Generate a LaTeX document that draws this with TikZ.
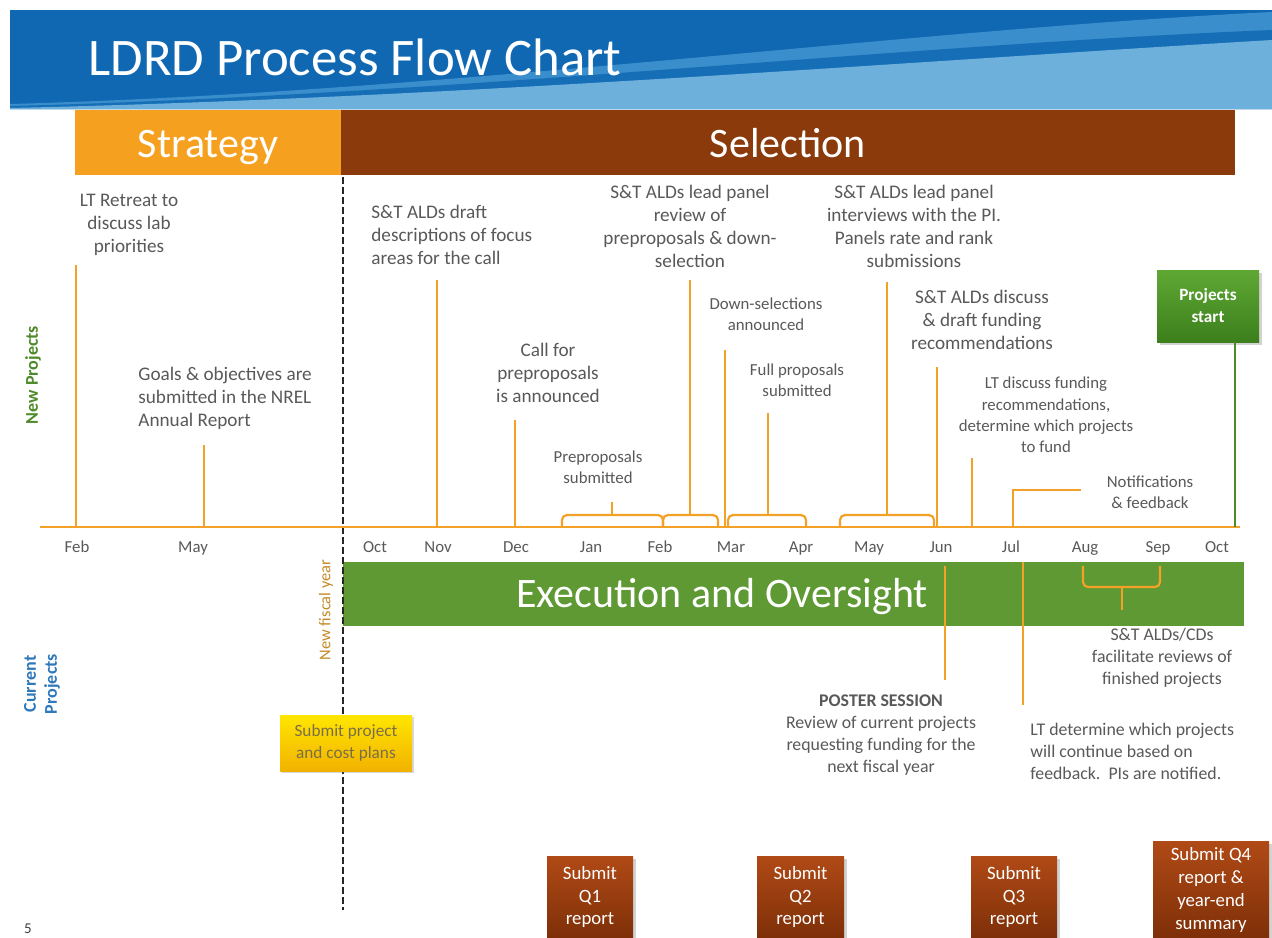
\documentclass[tikz,border=0pt]{standalone}
\usepackage{fontspec}
\setmainfont{Carlito}
\usetikzlibrary{shadows}
\definecolor{bdark}{HTML}{1068B3}
\definecolor{bmid}{HTML}{3B8ECC}
\definecolor{blight}{HTML}{6DB0DC}
\definecolor{orng}{HTML}{F4A128}
\definecolor{strat}{HTML}{F5A01E}
\definecolor{brwn}{HTML}{8A3A0B}
\definecolor{exgreen}{HTML}{5E9933}
\definecolor{tgray}{HTML}{595959}
\definecolor{lgreen}{HTML}{4E8A2A}
\definecolor{lblue}{HTML}{2E78BC}
\definecolor{gold}{HTML}{C48A26}
\definecolor{qtop}{HTML}{B04A16}
\definecolor{qbot}{HTML}{7E2F08}
\definecolor{gtop}{HTML}{5FA834}
\definecolor{gbot}{HTML}{3C7F1C}
\definecolor{ytop}{HTML}{FFE600}
\definecolor{ybot}{HTML}{F2B200}
\definecolor{ytext}{HTML}{7A6E4A}
\tikzset{
  txt/.style={text=tgray, font=\fontsize{9.6}{11.5}\selectfont, align=center, inner sep=0pt},
  lowtxt/.style={text=tgray, font=\fontsize{8.9}{11}\selectfont, align=center, inner sep=0pt},
  smalltxt/.style={text=tgray, font=\fontsize{8.4}{10.7}\selectfont, align=center, inner sep=0pt},
  month/.style={text=tgray, font=\fontsize{8.4}{10}\selectfont, inner sep=0pt, anchor=base},
  tick/.style={draw=orng, line width=1.1pt},
  brace/.style={draw=orng, line width=1.1pt, rounded corners=2.5pt},
  bartxt/.style={text=white, font=\fontsize{21}{24}\selectfont, inner sep=0pt, text height=13.6pt, text depth=0pt},
  qbox/.style={draw=none, top color=qtop, bottom color=qbot, text=white,
     font=\fontsize{9.4}{11.4}\selectfont, align=center, inner sep=0pt, drop shadow={opacity=0.35, shadow xshift=1.5pt, shadow yshift=-1.5pt}},
}
\begin{document}
\begin{tikzpicture}[x=0.5pt,y=-0.5pt]
\useasboundingbox (0,0) rectangle (1272,937);
\fill[white] (0,0) rectangle (1272,937);
% title banner
\fill[bdark] (10,10) rectangle (1272,109);
\fill[bmid] (10,104) .. controls (450,92) and (900,30) .. (1272,12) -- (1272,109) -- (10,109) -- cycle;
\fill[bdark!85!bmid] (10,106) .. controls (450,95) and (900,45) .. (1272,30) -- (1272,109) -- (10,109) -- cycle;
\fill[blight] (10,108) .. controls (450,98) and (900,62) .. (1272,40) -- (1272,109) -- (10,109) -- cycle;
\node[anchor=base west, text=white, font=\fontsize{26.4}{30}\selectfont, inner sep=0pt] (title) at (88,75) {LDRD Process Flow Chart};
% phase bars
\fill[strat] (75,110) rectangle (341,175);
\fill[brwn] (341,110) rectangle (1235,175);
\node[bartxt] (strategy) at (208,144) {Strategy};
\node[bartxt] (selection) at (788,144) {Selection};
% execution bar
\fill[exgreen] (343,562) rectangle (1244,626);
\node[bartxt] (exec) at (722,594) {Execution and Oversight};
% fiscal year dashed line
\coordinate (fyTop) at (343,177);
\coordinate (fyBot) at (343,910);
\draw[black!85, line width=1.2pt, dash pattern=on 3.5pt off 1.5pt] (fyTop) -- (fyBot);
% axis
\coordinate (axL) at (40,527);
\coordinate (axR) at (1240,527);
\draw[tick] (axL) -- (axR);
% month labels
\foreach \m/\x [count=\i] in {Feb/77,May/193,Oct/375,Nov/438,Dec/516,Jan/591,Feb/660,Mar/731,Apr/801,May/869,Jun/941,Jul/1011,Aug/1085,Sep/1158,Oct/1217}
  \node[month] (m\i) at (\x,552) {\m};
% left labels
\node[rotate=90, text=lgreen, font=\fontsize{9}{10}\selectfont\bfseries, inner sep=0pt] (newproj) at (33,375) {New Projects};
\node[rotate=90, text=lblue, font=\fontsize{9}{10.5}\selectfont\bfseries, align=center, inner sep=0pt] (curproj) at (42,684) {Current\\Projects};
\node[rotate=90, text=gold, font=\fontsize{8.2}{10}\selectfont, inner sep=0pt] (fiscal) at (326,610) {New fiscal year};
% top annotations
\node[txt] (retreat) at (129,225) {LT Retreat to\\discuss lab\\priorities};
\node[txt, align=left, anchor=west] (draft) at (371,235) {S\&T ALDs draft\\descriptions of focus\\areas for the call};
\node[txt] (panelrev) at (690,226) {S\&T ALDs lead panel\\review of\\preproposals \& down-\\selection};
\node[txt] (interv) at (914,226) {S\&T ALDs lead panel\\interviews with the PI.\\Panels rate and rank\\submissions};
\node[txt, align=left, anchor=west] (goals) at (138,398) {Goals \& objectives are\\submitted in the NREL\\Annual Report};
\node[txt] (call) at (548,373) {Call for\\preproposals\\is announced};
\node[smalltxt] (presub) at (598,467) {Preproposals\\submitted};
\node[smalltxt] (downsel) at (766,314) {Down-selections\\announced};
\node[smalltxt] (fullprop) at (797,380) {Full proposals\\submitted};
\node[txt] (discuss) at (982,320) {S\&T ALDs discuss\\\& draft funding\\recommendations};
\node[smalltxt] (ltfund) at (1046,415) {LT discuss funding\\recommendations,\\determine which projects\\to fund};
\node[smalltxt] (notif) at (1150,492) {Notifications\\\& feedback};
% projects start box
\node[draw=none, top color=gtop, bottom color=gbot, text=white, font=\fontsize{8.6}{11}\selectfont\bfseries, align=center, minimum width=51pt, minimum height=36pt, inner sep=0pt, drop shadow={opacity=0.35, shadow xshift=1.5pt, shadow yshift=-1.5pt}] (pstart) at (1208,306) {Projects\\start};
% ticks
\draw[tick] (76,265) -- (76,527);
\draw[tick] (204,445) -- (204,527);
\draw[tick] (437,280) -- (437,527);
\draw[tick] (515,420) -- (515,527);
\draw[brace] (562,527) -- (562,515) -- (663,515) -- (663,527);
\draw[tick] (612,515) -- (612,502);
\draw[brace] (663,527) -- (663,515) -- (718,515) -- (718,527);
\draw[tick] (690,515) -- (690,280);
\draw[tick] (725,350) -- (725,527);
\draw[brace] (728,527) -- (728,515) -- (806,515) -- (806,527);
\draw[tick] (768,515) -- (768,413);
\draw[brace] (840,527) -- (840,515) -- (934,515) -- (934,527);
\draw[tick] (887,515) -- (887,282);
\draw[tick] (937,367) -- (937,527);
\draw[tick] (972,458) -- (972,527);
\draw[tick] (1013,527) -- (1013,490) -- (1081,490);
\draw[lgreen, line width=1.2pt] (pstart.south -| 1235,0) -- (1235,527);
% lower section
\draw[tick] (945,566) -- (945,680);
\draw[tick] (1023,562) -- (1023,705);
\draw[brace] (1083,566) -- (1083,587) -- (1160,587) -- (1160,566);
\draw[tick] (1122,587) -- (1122,610);
\node[lowtxt] (facil) at (1162,658) {S\&T ALDs/CDs\\facilitate reviews of\\finished projects};
\node[lowtxt] (poster) at (881,735) {\textbf{POSTER SESSION}\\Review of current projects\\requesting funding for the\\next fiscal year};
\node[lowtxt, align=left, anchor=west] (ltdet) at (1030,751) {LT determine which projects\\will continue based on\\feedback.\ \ PIs are notified.};
\node[draw=none, top color=ytop, bottom color=ybot, text=ytext, font=\fontsize{8.6}{11}\selectfont, align=center, minimum width=66pt, minimum height=28pt, inner sep=0pt, drop shadow={opacity=0.3, shadow xshift=1.2pt, shadow yshift=-1.2pt}] (plans) at (346,743) {Submit project\\and cost plans};
\node[qbox, minimum width=43pt, minimum height=41pt] (q1) at (590,897) {Submit\\Q1\\report};
\node[qbox, minimum width=43.5pt, minimum height=41pt] (q2) at (800.5,897) {Submit\\Q2\\report};
\node[qbox, minimum width=43pt, minimum height=41pt] (q3) at (1014,897) {Submit\\Q3\\report};
\node[qbox, minimum width=58pt, minimum height=49pt] (q4) at (1211,890) {Submit Q4\\report \&\\year-end\\summary};
\node[text=black!75, font=\fontsize{7.5}{9}\selectfont, anchor=base, inner sep=0pt] (pg) at (28,933) {5};
\end{tikzpicture}
\end{document}
